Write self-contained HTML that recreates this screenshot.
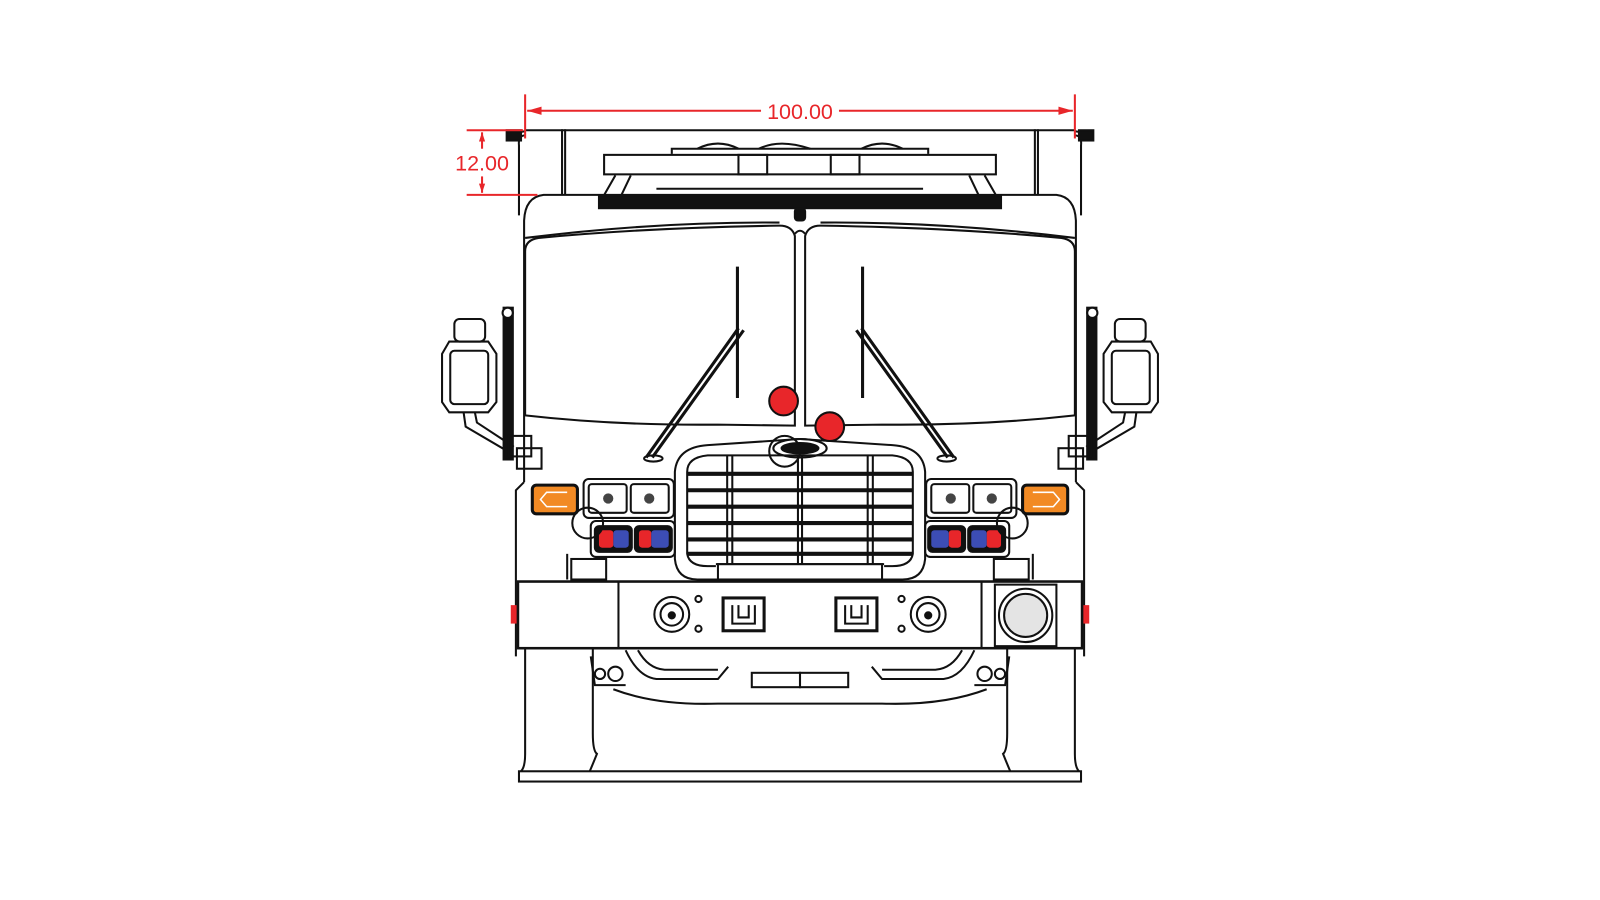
<!DOCTYPE html>
<html><head><meta charset="utf-8"><style>
html,body{margin:0;padding:0;background:#fff;width:1600px;height:900px;overflow:hidden}
svg{display:block}
</style></head><body>
<svg width="1600" height="900" viewBox="0 0 1600 900" xmlns="http://www.w3.org/2000/svg">
<defs>
<g id="half" fill="none" stroke="#111" stroke-width="2">
  <path d="M512 132 Q505 132 506 142 L506 210"/>
  <path d="M498 130 L512 128"/>
  <rect x="494" y="127" width="14" height="10" fill="#111"/>
  <line x1="548" y1="126" x2="548" y2="190"/>
  <line x1="551" y1="126" x2="551" y2="190"/>
  <path d="M780 190 L530 190 Q512 192 511 215 L511 470"/>
  <path d="M775 230 Q772 220 760 220 Q630 222 525 232 Q512 234 512 245 L512 405 Q600 415 700 414 L775 415 Z"/>
  <path d="M512 232 Q640 216 760 217"/>
  <line x1="719" y1="260" x2="719" y2="388" stroke-width="3"/>
  <path d="M725 322 L636 446 M720 320 L630 446" stroke-width="3"/>
  <ellipse cx="637" cy="447" rx="9" ry="3"/>
  <rect x="443" y="311" width="30" height="22" rx="5"/>
  <path d="M438 333 L476 333 L484 345 L484 392 L476 402 L438 402 L431 392 L431 345 Z"/>
  <rect x="439" y="342" width="37" height="52" rx="4"/>
  <path d="M452 402 L454 416 L495 440 L500 435 L465 412 L463 402"/>
  <rect x="491" y="300" width="9" height="148" fill="#111"/>
  <circle cx="495" cy="305" r="5" fill="#fff"/>
  <rect x="496" y="425" width="22" height="20"/>
  <rect x="504" y="437" width="24" height="20"/>
  <path d="M511 470 L503 478 L503 640"/>
  <rect x="498" y="590" width="6" height="18" fill="#e8262a" stroke="none"/>
  <rect x="519" y="473" width="44" height="28" rx="4" fill="#f28a24" stroke="#111" stroke-width="3"/>
  <path d="M553 480 L533 480 L527 487 L533 494 L553 494" stroke="#fff" stroke-width="1.5"/>
  <rect x="569" y="467" width="88" height="38" rx="5"/>
  <rect x="574" y="472" width="37" height="28" rx="3"/>
  <rect x="615" y="472" width="37" height="28" rx="3"/>
  <circle cx="593" cy="486" r="5" fill="#444" stroke="none"/>
  <circle cx="633" cy="486" r="5" fill="#444" stroke="none"/>
  <rect x="576" y="508" width="82" height="35" rx="5"/>
  <rect x="580" y="513" width="36" height="25" rx="4" fill="#111"/>
  <rect x="619" y="513" width="36" height="25" rx="4" fill="#111"/>
  <rect x="584" y="517" width="14" height="17" rx="3" fill="#e8262a" stroke="none"/>
  <rect x="598" y="517" width="15" height="17" rx="3" fill="#3c4db5" stroke="none"/>
  <rect x="623" y="517" width="12" height="17" rx="3" fill="#e8262a" stroke="none"/>
  <rect x="635" y="517" width="17" height="17" rx="3" fill="#3c4db5" stroke="none"/>
  <circle cx="573" cy="510" r="15"/>
  <rect x="557" y="545" width="34" height="20"/>
  <line x1="553" y1="540" x2="553" y2="565"/>
  <path d="M780 428 L690 434 Q660 436 658 460 L658 545 Q660 565 680 565 L780 565"/>
  <path d="M780 444 L690 444 Q670 446 670 460 L670 540 Q672 552 690 552 L698 552"/>
  <line x1="698" y1="550" x2="780" y2="550"/>
  <line x1="709" y1="444" x2="709" y2="550"/>
  <line x1="714" y1="444" x2="714" y2="550"/>
  <line x1="778" y1="444" x2="778" y2="550"/>
  <line x1="670" y1="462" x2="780" y2="462" stroke-width="4"/>
  <line x1="670" y1="478" x2="780" y2="478" stroke-width="4"/>
  <line x1="670" y1="494" x2="780" y2="494" stroke-width="4"/>
  <line x1="670" y1="510" x2="780" y2="510" stroke-width="4"/>
  <line x1="670" y1="526" x2="780" y2="526" stroke-width="4"/>
  <line x1="670" y1="540" x2="780" y2="540" stroke-width="4"/>
  <circle cx="655" cy="599" r="17"/>
  <circle cx="655" cy="599" r="11"/>
  <circle cx="655" cy="600" r="3" fill="#111"/>
  <circle cx="681" cy="584" r="3"/>
  <circle cx="681" cy="613" r="3"/>
  <rect x="705" y="583" width="40" height="32" stroke-width="3"/>
  <path d="M714 590 L714 608 L736 608 L736 590 M720 590 L720 602 L730 602 L730 590"/>
  <path d="M610 634 Q622 660 640 662 L700 662 L710 650"/>
  <path d="M622 634 Q632 652 648 653 L700 653"/>
  <path d="M598 672 Q640 688 700 686 L780 686"/>
  <rect x="733" y="656" width="47" height="14"/>
  <path d="M576 640 L580 668 L610 668" />
  <circle cx="600" cy="657" r="7"/>
  <circle cx="585" cy="657" r="5"/>
  <path d="M512 632 L512 735 Q512 748 508 752"/>
  <path d="M578 632 L578 715 Q578 732 582 735 Q578 745 575 752"/>
</g>
</defs>
<rect width="1600" height="900" fill="#fff"/>
<g transform="scale(1.02564)">
<use href="#half"/>
<use href="#half" transform="translate(1560 0) scale(-1 1)"/>
<g fill="none" stroke="#111" stroke-width="2">
  <line x1="512" y1="127" x2="1048" y2="127"/>
  <path d="M655 150 L655 145 L905 145 L905 150"/>
  <path d="M680 145 Q700 135 720 145 M740 145 Q760 135 790 145 M840 145 Q860 135 880 145"/>
  <rect x="589" y="151" width="382" height="19"/>
  <rect x="720" y="151" width="28" height="19"/>
  <rect x="810" y="151" width="28" height="19"/>
  <path d="M600 171 L588 192 M615 171 L605 192 M960 171 L972 192 M945 171 L955 192"/>
  <line x1="640" y1="184" x2="900" y2="184"/>
  <rect x="584" y="191" width="392" height="12" fill="#111"/>
  <rect x="775" y="203" width="10" height="12" rx="3" fill="#111"/>
  <path d="M775 228 Q780 222 785 228"/>
  <rect x="505" y="567" width="550" height="65" stroke-width="2.5"/>
  <line x1="603" y1="567" x2="603" y2="632"/>
  <line x1="957" y1="567" x2="957" y2="632"/>
  <rect x="970" y="570" width="60" height="60"/>
  <circle cx="1000" cy="600" r="26"/>
  <circle cx="1000" cy="600" r="21" fill="#e4e4e4"/>
  <rect x="700" y="550" width="160" height="15"/>
  <rect x="506" y="752" width="548" height="10"/>
  <circle cx="765" cy="440" r="15"/>
  <ellipse cx="780" cy="437" rx="26" ry="9"/>
  <ellipse cx="780" cy="437" rx="18" ry="5" fill="#111"/>
</g>
<circle cx="764" cy="391" r="14" fill="#e8262a" stroke="#111" stroke-width="2"/>
<circle cx="809" cy="416" r="14" fill="#e8262a" stroke="#111" stroke-width="2"/>
<g stroke="#e8262a" stroke-width="2" fill="#e8262a">
  <line x1="512" y1="92" x2="512" y2="135"/>
  <line x1="1048" y1="92" x2="1048" y2="135"/>
  <line x1="514" y1="108" x2="742" y2="108"/>
  <line x1="818" y1="108" x2="1046" y2="108"/>
  <path d="M514 108 L528 104 L528 112 Z" stroke="none"/>
  <path d="M1046 108 L1032 104 L1032 112 Z" stroke="none"/>
  <line x1="455" y1="127" x2="510" y2="127"/>
  <line x1="455" y1="190" x2="524" y2="190"/>
  <line x1="470" y1="129" x2="470" y2="145"/>
  <line x1="470" y1="172" x2="470" y2="188"/>
  <path d="M470 129 L467 138 L473 138 Z M470 188 L467 179 L473 179 Z" stroke="none"/>
</g>
<g fill="#e8262a" font-family="Liberation Sans, sans-serif" font-size="21">
  <text x="780" y="116" text-anchor="middle">100.00</text>
  <text x="470" y="166" text-anchor="middle">12.00</text>
</g>
</g>
</svg>
</body></html>
